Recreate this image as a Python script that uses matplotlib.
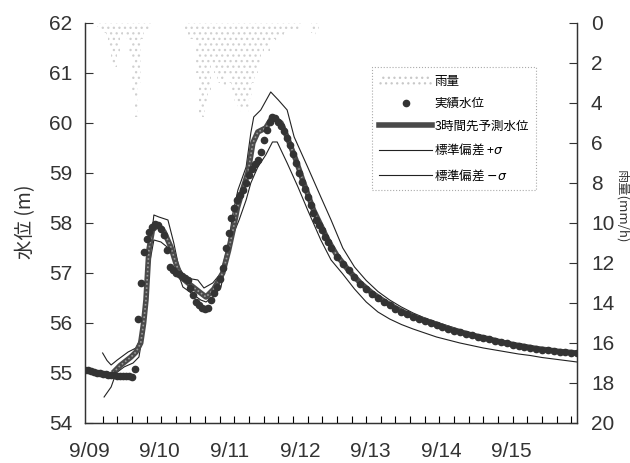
import matplotlib
matplotlib.use('Agg')
import matplotlib.pyplot as plt
from matplotlib.lines import Line2D
from matplotlib.patches import Patch

plt.rcParams['font.family'] = ['Liberation Sans', 'Noto Sans CJK JP', 'DejaVu Sans']
plt.rcParams['hatch.linewidth'] = 0.9

# hours from 9/09 0:00
day_labels = ['9/09', '9/10', '9/11', '9/12', '9/13', '9/14', '9/15']

# rainfall (mm/h), hourly
rain_h = list(range(0, 80))
rain = [0, 0, 0, 0, 0.2, 0.3, 0.5, 0.6, 1.2, 2.0, 2.2, 1.5, 0.6, 0.4, 0.8, 1.6,
        3.5, 4.7, 3.0, 0.8, 0.4, 0.3, 0.2, 0, 0, 0, 0, 0, 0, 0, 0, 0,
        0, 0, 0.4, 0.6, 0.8, 1.0, 2.5, 4.5, 4.7, 4.0, 3.5, 2.0, 2.5, 3.0,
        2.8, 3.2, 2.5, 3.0, 3.5, 4.0, 4.3, 4.5, 4.2, 4.5, 3.8, 3.0, 2.5, 2.0,
        1.5, 1.2, 1.4, 1.0, 0.8, 0.9, 0.6, 0.7, 0.5, 0.4, 0.4, 0.3, 0.3, 0.2,
        0, 0, 0, 0.5, 0.6, 0.4]

# observed water level (m)
obs_h = list(range(0, 85)) + list(range(86, 169, 2))
obs = [55.05, 55.05, 55.03, 55.02, 55.0, 55.0, 54.98, 54.97, 54.96, 54.96,
       54.95, 54.94, 54.94, 54.93, 54.93, 54.93, 54.92, 55.08, 56.08, 56.8,
       57.42, 57.68, 57.82, 57.92, 57.97, 57.95, 57.88, 57.76, 57.45, 57.12,
       57.05, 57.0, 56.97, 56.93, 56.9, 56.85, 56.7, 56.56, 56.42, 56.35,
       56.3, 56.28, 56.3, 56.45, 56.6, 56.72, 56.88, 57.1, 57.5, 57.8,
       58.1, 58.3, 58.45, 58.55, 58.65, 58.8, 58.95, 59.08, 59.18, 59.25,
       59.42, 59.65, 59.85, 60.02, 60.12, 60.1, 60.02, 59.93, 59.83, 59.7,
       59.55, 59.38, 59.2, 59.0, 58.82, 58.67, 58.52, 58.36, 58.2, 58.06,
       57.95, 57.85, 57.72, 57.62, 57.5,
       57.32, 57.18, 57.05, 56.92, 56.78, 56.68, 56.58, 56.5, 56.42, 56.35,
       56.28, 56.22, 56.17, 56.12, 56.08, 56.04, 56.0, 55.96, 55.92, 55.88,
       55.84, 55.81, 55.78, 55.75, 55.72, 55.7, 55.67, 55.64, 55.61, 55.59,
       55.56, 55.54, 55.52, 55.5, 55.48, 55.46, 55.45, 55.43, 55.42, 55.41,
       55.4, 55.39]

# 3-hour-ahead forecast
pred_h = [9.5, 12, 15.7, 17.4, 19, 20, 20.8, 21.8, 23, 24.9, 27, 29.3, 31, 32.7,
          36, 39.5, 41.3, 44, 47, 49, 50.5, 52, 54, 55.6, 57.3, 59, 61.7, 64,
          66.9, 69, 72, 74.3, 78, 82.9, 86, 90, 94, 98, 102, 106, 110, 114,
          118, 122, 126, 130, 134, 138, 142, 146, 150, 154, 158, 162, 166, 168]
pred = [55.0, 55.15, 55.32, 55.42, 55.6, 56.0, 56.46, 57.46, 57.86, 57.96, 57.82,
        57.52, 57.2, 56.92, 56.76, 56.6, 56.52, 56.68, 57.0, 57.45, 57.85, 58.3,
        58.7, 59.0, 59.6, 59.82, 59.9, 60.12, 60.0, 59.72, 59.26, 58.86, 58.26,
        57.66, 57.35, 57.05, 56.8, 56.6, 56.44, 56.3, 56.18, 56.09, 56.01,
        55.93, 55.86, 55.79, 55.73, 55.68, 55.62, 55.57, 55.53, 55.49, 55.46,
        55.43, 55.41, 55.4]

# +sigma
up_h = [6, 7.5, 8.9, 11, 14.7, 17.4, 19.8, 21.5, 23.5, 25.2, 28.3, 30.3, 32,
        34.4, 38.5, 40.6, 43.6, 46.4, 49, 50.5, 52.2, 55, 56.6, 57.6, 60,
        63.4, 66, 69, 71.4, 76, 80.5, 84, 88, 92, 96, 100, 104, 108, 112,
        116, 120, 124, 128, 132, 136, 140, 144, 148, 152, 156, 160, 164, 168]
up = [55.4, 55.25, 55.16, 55.26, 55.42, 55.5, 55.8, 57.12, 58.16, 58.12, 58.06,
      57.6, 57.12, 56.9, 56.86, 56.7, 56.8, 57.0, 57.6, 58.2, 58.66, 59.12,
      59.8, 60.12, 60.26, 60.62, 60.46, 60.26, 59.72, 59.12, 58.52, 58.06,
      57.5, 57.12, 56.85, 56.63, 56.46, 56.32, 56.2, 56.1, 56.02, 55.94,
      55.86, 55.8, 55.74, 55.68, 55.63, 55.58, 55.54, 55.5, 55.47, 55.44, 55.42]

# -sigma
lo_h = [6.5, 8.9, 10.6, 13.3, 16.4, 18.4, 20.1, 21.8, 23.5, 25.9, 29.3, 31,
        33.4, 37.2, 39.5, 41.3, 43.6, 46.4, 49.8, 52.6, 55, 56.6, 59, 61.7,
        64, 65.6, 69, 72.7, 76, 80.5, 84, 88, 92, 96, 100, 104, 108, 112,
        116, 120, 124, 128, 132, 136, 140, 144, 148, 152, 156, 160, 164, 168]
lo = [54.52, 54.72, 55.0, 55.12, 55.2, 55.32, 55.92, 57.12, 57.66, 57.62, 57.46,
      57.12, 56.72, 56.56, 56.46, 56.42, 56.52, 56.72, 57.66, 58.06, 58.46,
      58.8, 59.12, 59.36, 59.62, 59.62, 59.2, 58.72, 58.26, 57.66, 57.26,
      56.98, 56.68, 56.42, 56.22, 56.08, 55.97, 55.88, 55.8, 55.72, 55.66,
      55.6, 55.55, 55.5, 55.46, 55.42, 55.38, 55.35, 55.31, 55.28, 55.25, 55.22]

fig = plt.figure(figsize=(6.3, 4.63), dpi=100)
ax = fig.add_axes([0.135, 0.0864, 0.781, 0.864])
ax2 = ax.twinx()

# rain bars hanging from the top (faint stipple)
ax2.bar([h + 0.5 for h in rain_h], rain, width=1.0, facecolor='none',
        edgecolor='#d0d0d0', hatch='...', linewidth=0)
ax2.set_ylim(20, 0)
ax2.set_yticks(range(0, 21, 2))
ax2.tick_params(axis='y', direction='in', length=6, pad=10, labelsize=15,
                colors='#333333')

ax.set_zorder(ax2.get_zorder() + 1)
ax.patch.set_visible(False)

ax.plot(lo_h, lo, color='#222222', lw=0.8, zorder=2)
ax.plot(up_h, up, color='#222222', lw=0.8, zorder=2)
ax.plot(pred_h, pred, color='#4a4a4a', lw=4, solid_capstyle='butt', zorder=3)
ax.plot(pred_h, pred, color='#9a9a9a', lw=1.2, ls=(0, (1, 1.5)), zorder=3)
ax.plot(obs_h, obs, 'o', color='#333333', ms=4.5, mec='#333333', zorder=4)

ax.set_xlim(0, 168)
ax.set_ylim(54, 62)
ax.set_yticks(range(54, 63))
ax.set_xticks([d * 24 + 1.5 for d in range(7)])
ax.set_xticklabels(day_labels)
ax.set_xticks(range(6, 168, 5), minor=True)
ax.tick_params(axis='x', which='major', length=0, pad=14, labelsize=15,
               colors='#333333')
ax.tick_params(axis='x', which='minor', direction='in', length=5, width=0.8)
ax.tick_params(axis='y', direction='in', length=6, pad=9, labelsize=15,
               colors='#333333')
for a in (ax, ax2):
    for s in a.spines.values():
        s.set_linewidth(0.9)
        s.set_color('#333333')
ax.spines['top'].set_visible(False)
ax2.spines['top'].set_visible(False)

fig.text(0.04, 0.52, '水位 (m)', rotation=90, ha='center', va='center',
         fontsize=14, family=['Noto Sans CJK JP', 'DejaVu Sans'], color='#333333')
fig.text(0.988, 0.555, '雨量(mm/h)', rotation=270, ha='center', va='center',
         fontsize=9.5, family=['Noto Sans CJK JP', 'DejaVu Sans'], color='#333333')

handles = [
    Patch(facecolor='none', edgecolor='#c8c8c8', hatch='...', linewidth=0),
    Line2D([], [], ls='none', marker='o', color='#333333', ms=4.5),
    Line2D([], [], color='#4a4a4a', lw=4),
    Line2D([], [], color='#222222', lw=0.8),
    Line2D([], [], color='#222222', lw=0.8),
]
labels = ['雨量', '実績水位', '3時間先予測水位', '標準偏差 +$\\sigma$', '標準偏差 $-\\sigma$']
leg = ax.legend(handles, labels, loc='upper left', bbox_to_anchor=(0.57, 0.905),
                prop={'family': ['Noto Sans CJK JP', 'DejaVu Sans'], 'size': 9},
                handlelength=4.2, handletextpad=0.2, labelspacing=0.75,
                borderpad=0.6, fancybox=False, framealpha=1)
leg.get_frame().set_edgecolor('#aaaaaa')
leg.get_frame().set_linestyle(':')
leg.get_frame().set_linewidth(0.8)

fig.savefig('out.png', dpi=100)
